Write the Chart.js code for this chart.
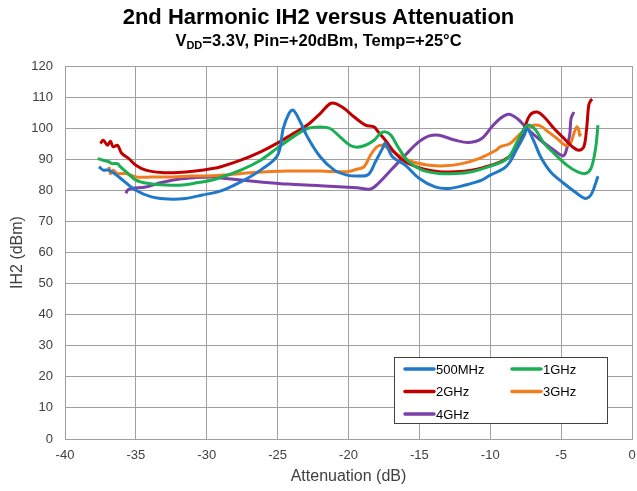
<!DOCTYPE html>
<html>
<head>
<meta charset="utf-8">
<script src="https://cdn.jsdelivr.net/npm/chart.js@4/dist/chart.umd.min.js"></script>
<style>
  html, body { margin:0; padding:0; background:#fff; }
  #wrap { position:relative; width:637px; height:491px; }
  #title { position:absolute; left:0; width:637px; top:4px; text-align:center;
           font:bold 22px "Liberation Sans", Arial, sans-serif; color:#000; }
  #sub { position:absolute; left:0; width:637px; top:31px; text-align:center;
         font:bold 16.5px "Liberation Sans", Arial, sans-serif; color:#000; }
  #sub sub { font-size:11px; vertical-align:-3px; line-height:0; }
  #c { position:absolute; left:0; top:0; }
</style>
</head>
<body>
<div id="wrap">
  <canvas id="c" width="637" height="491"></canvas>
  <div id="title">2nd Harmonic IH2 versus Attenuation</div>
  <div id="sub">V<sub>DD</sub>=3.3V, Pin=+20dBm, Temp=+25°C</div>
</div>
<script>
const seriesLabels = ["500MHz", "1GHz", "2GHz", "3GHz", "4GHz"];
const seriesColors = ["#1F78C8", "#1AAF54", "#C00000", "#F07D1E", "#7B3FA8"];

const x500 = [-37.6,-37.3,-36.9,-36.2,-35.0,-33.9,-32.7,-31.5,-30.3,-29.0,-27.6,-26.2,-25.0,-24.6,-24.2,-23.9,-23.4,-22.9,-22.0,-21.0,-20.1,-19.3,-18.6,-18.1,-17.6,-17.4,-16.9,-16.0,-15.0,-13.9,-12.9,-11.75,-10.6,-10.0,-9.05,-8.6,-8.1,-7.6,-7.4,-6.9,-6.45,-5.75,-4.8,-3.87,-3.3,-2.9,-2.57,-2.4];
const y500 = [87.6,86.5,86.5,84.3,80.0,77.9,77.2,77.4,78.5,79.8,82.7,86.5,91.3,99.9,104.7,105.8,102.0,97.2,90.8,86.5,84.9,84.6,85.1,89.2,93.5,95.1,90.8,88.1,83.8,81.1,80.6,81.7,83.3,84.9,87.0,89.2,93.5,97.7,99.9,95.6,90.8,86.0,82.2,79.0,77.4,78.5,82.2,84.5];

const x1G = [-37.7,-37.3,-36.9,-36.7,-36.3,-36.1,-35.7,-35.0,-34.1,-32.9,-31.7,-30.6,-29.6,-29.0,-27.6,-26.2,-25.05,-23.9,-22.9,-22.0,-21.3,-20.6,-19.9,-19.4,-18.8,-18.2,-17.75,-17.4,-17.0,-16.45,-15.75,-14.8,-13.6,-12.45,-11.3,-10.1,-8.8,-8.1,-7.6,-7.3,-6.8,-6.2,-5.5,-4.6,-3.87,-3.3,-2.9,-2.57,-2.4];
const y1G = [90.2,89.7,89.2,88.6,88.6,87.6,86.0,83.3,82.2,81.7,81.7,82.5,83.3,84.2,86.5,89.7,93.5,97.2,99.9,100.4,99.9,97.2,94.5,93.9,94.5,96.1,98.3,98.8,97.7,93.5,89.2,86.5,85.4,85.4,86.0,87.6,90.2,95.6,99.9,101.0,99.4,95.1,91.9,88.1,86.0,85.4,87.0,93.5,101.0];

const x2G = [-37.5,-37.3,-37.0,-36.8,-36.6,-36.3,-36.0,-35.5,-35.0,-34.3,-33.2,-32.0,-30.8,-29.6,-29.0,-27.6,-26.2,-25.05,-23.9,-22.9,-22.0,-21.3,-20.9,-20.3,-19.6,-18.8,-18.2,-17.9,-17.4,-16.7,-16.0,-14.8,-13.6,-12.45,-11.3,-10.3,-9.6,-9.05,-8.3,-7.6,-7.2,-6.7,-6.2,-5.5,-4.8,-4.2,-3.75,-3.4,-3.2,-3.05,-2.9,-2.8];
const y2G = [95.1,96.1,94.5,95.8,94.0,94.5,91.9,90.2,88.1,86.5,85.7,85.7,86.2,87.0,87.6,89.7,92.4,95.1,98.3,101.0,104.7,107.9,107.9,106.3,103.6,101.0,100.4,98.8,96.1,91.9,89.2,87.0,86.0,86.0,86.5,87.6,88.6,89.7,92.4,99.9,104.2,105.2,103.6,99.9,96.7,94.0,92.9,94.0,99.9,107.4,109.0,109.3];

const x3G = [-36.9,-36.8,-36.6,-36.3,-35.7,-35.0,-33.9,-32.45,-31.0,-29.6,-28.8,-26.7,-24.3,-22.0,-20.1,-19.4,-18.9,-18.45,-18.0,-17.6,-17.2,-16.45,-15.5,-14.3,-13.2,-12.0,-10.8,-9.6,-9.3,-8.6,-8.0,-7.4,-6.9,-6.45,-5.9,-5.3,-4.7,-4.35,-4.1,-3.9,-3.75,-3.7,-3.6];
const y3G = [87.6,85.4,86.5,85.4,85.4,84.3,84.3,84.3,84.6,84.7,84.9,85.7,86.2,86.2,86.0,86.8,87.6,91.3,94.0,94.5,93.5,91.3,89.2,88.1,87.9,88.6,90.2,92.9,94.0,95.1,97.7,99.9,101.0,100.7,98.8,96.7,94.5,95.1,98.3,100.4,99.4,97.7,98.3];

const x4G = [-35.7,-35.6,-35.3,-34.3,-33.2,-32.0,-30.8,-29.6,-29.0,-27.6,-26.2,-24.3,-22.0,-19.4,-18.45,-17.9,-16.9,-16.0,-15.05,-14.3,-13.6,-12.45,-11.5,-10.6,-9.9,-9.3,-8.7,-8.1,-7.4,-6.45,-5.5,-4.9,-4.7,-4.4,-4.3,-4.1];
const y4G = [79.0,80.0,80.6,81.1,82.5,83.6,84.1,84.3,84.0,83.3,82.7,82.0,81.5,80.8,80.4,82.2,87.0,91.3,95.6,97.5,97.7,96.1,95.4,96.7,100.4,103.1,104.5,103.1,99.9,96.1,92.9,91.1,91.9,97.7,103.1,105.2];

const xTicks = [-40,-35,-30,-25,-20,-15,-10,-5,0];
const yTicks = [0,10,20,30,40,50,60,70,80,90,100,110,120];

const xs = [x500, x1G, x2G, x3G, x4G];
const ys = [y500, y1G, y2G, y3G, y4G];

const datasets = seriesLabels.map((lab, i) => ({
  label: lab,
  data: xs[i].map((x, j) => ({x: x, y: ys[i][j]})),
  borderColor: seriesColors[i],
  backgroundColor: seriesColors[i],
  borderWidth: 3,
  pointRadius: 0,
  tension: 0.35,
  fill: false
}));

const legendPlugin = {
  id: 'boxLegend',
  afterDraw(chart) {
    const ctx = chart.ctx;
    const bx = 394.5, by = 357.5, bw = 213, bh = 66;
    ctx.save();
    ctx.fillStyle = '#fff';
    ctx.fillRect(bx, by, bw, bh);
    ctx.strokeStyle = '#404040';
    ctx.lineWidth = 1;
    ctx.strokeRect(bx, by, bw, bh);
    ctx.font = '13px "Liberation Sans", Arial, sans-serif';
    ctx.textBaseline = 'middle';
    ctx.fillStyle = '#000';
    chart.data.datasets.forEach((ds, i) => {
      const col = i % 2, row = Math.floor(i / 2);
      const lx = col === 0 ? 405 : 512;
      const ly = 369 + row * 22.5;
      ctx.strokeStyle = ds.borderColor;
      ctx.lineWidth = 3.5;
      ctx.lineCap = 'round';
      ctx.beginPath();
      ctx.moveTo(lx, ly);
      ctx.lineTo(lx + 29, ly);
      ctx.stroke();
      ctx.fillText(ds.label, lx + 31, ly + 1);
    });
    ctx.restore();
  }
};

new Chart(document.getElementById('c'), {
  type: 'line',
  data: { datasets: datasets },
  options: {
    responsive: false,
    animation: false,
    layout: { padding: { top: 66, right: 5, left: 0, bottom: 0 } },
    plugins: { legend: { display: false }, tooltip: { enabled: false }, title: { display: false } },
    scales: {
      x: {
        type: 'linear', min: -40, max: 0,
        afterBuildTicks: s => { s.ticks = xTicks.map(v => ({value: v})); },
        afterFit: s => { s.height = 52; s.paddingLeft = 0; s.paddingRight = 0; },
        grid: { color: '#a0a0a0', lineWidth: 1, drawTicks: false },
        border: { color: '#a0a0a0' },
        ticks: { padding: 9, color: '#404040', font: { family: '"Liberation Sans", Arial, sans-serif', size: 13 }, maxRotation: 0 },
        title: { display: true, text: 'Attenuation (dB)', color: '#404040', padding: { top: 0, bottom: 5 },
                 font: { family: '"Liberation Sans", Arial, sans-serif', size: 16 } }
      },
      y: {
        type: 'linear', min: 0, max: 120,
        afterBuildTicks: s => { s.ticks = yTicks.map(v => ({value: v})); },
        afterFit: s => { s.width = 65; s.paddingTop = 0; s.paddingBottom = 0; },
        grid: { color: '#a0a0a0', lineWidth: 1, drawTicks: false },
        border: { color: '#a0a0a0' },
        ticks: { padding: 12, color: '#404040', font: { family: '"Liberation Sans", Arial, sans-serif', size: 13 } },
        title: { display: true, text: 'IH2 (dBm)', color: '#404040', padding: { top: 8, bottom: 0 },
                 font: { family: '"Liberation Sans", Arial, sans-serif', size: 16 } }
      }
    }
  },
  plugins: [legendPlugin]
});
</script>
</body>
</html>
